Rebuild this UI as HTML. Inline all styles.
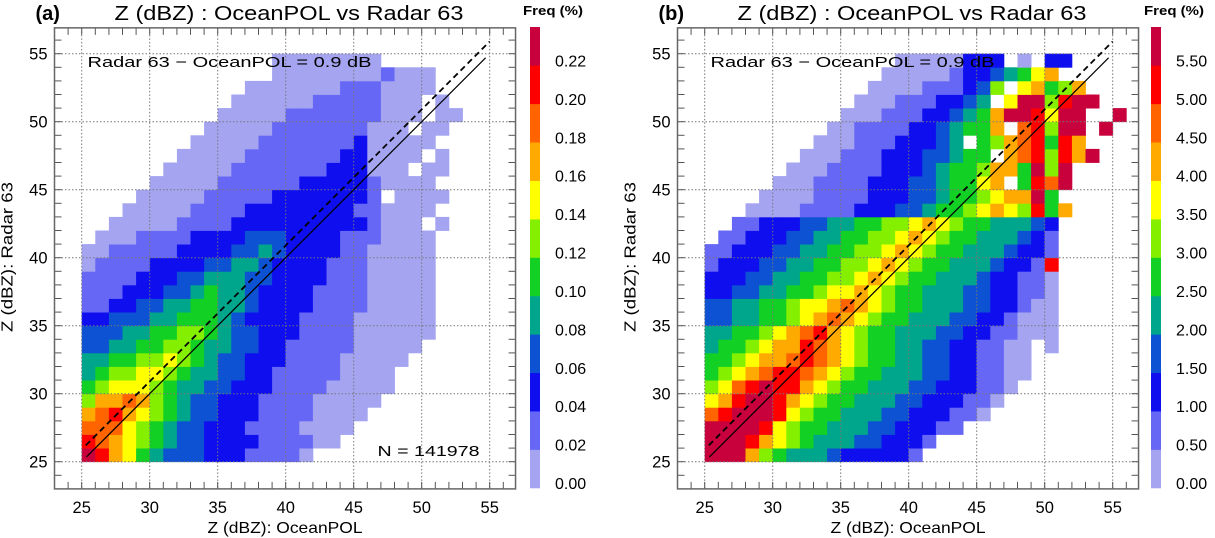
<!DOCTYPE html>
<html><head><meta charset="utf-8"><style>
html,body{margin:0;padding:0;background:#fff;}
svg{display:block;font-family:"Liberation Sans",sans-serif;}
</style></head><body>
<svg id="chart" width="1215" height="538" viewBox="0 0 1215 538" xmlns="http://www.w3.org/2000/svg"></svg>
<script>
// ---- data ----
const palette = ['#a4a4f0','#6767f6','#0e0eef','#0c52d2','#00a68c','#12d024','#84f000','#ffff00','#ffaa00','#ff6400','#ff0000','#c8003c'];
const colorbarLabelsA = ['0.00','0.02','0.04','0.06','0.08','0.10','0.12','0.14','0.16','0.18','0.20','0.22'];
const colorbarLabelsB = ['0.00','0.50','1.00','1.50','2.00','2.50','3.00','3.50','4.00','4.50','5.00','5.50'];
const axisTicks = [25,30,35,40,45,50,55];
const binStart = 25; // first bin (dBZ), rows listed bottom (25) to top (54), 1 dBZ bins
const rowsA = [
"ba875433322211110",
"a987654332222111100",
"99976543322211110000",
"89a876543322211110000",
"6889865433222111100000",
"56777654433222111100000",
"45667765443322111110000",
"445566765433222111100000",
"3344556654433221111100000",
"33344556654332221111000000",
"22333445554322221111000000",
"11223344554432222111100000",
"11122233454432222111100000",
"11112223344433222211100000",
"01111222233443222211100000",
"00111112222334322221100000",
".0001111222233322221110000",
"..00000111122222222221000 0",
"...00000111122222222110000",
"....000001111122222221 0000",
".....000001111112222210000",
"......000001111111222000 00",
".......000001111111220000 0",
"........000001111111200000",
".........000001111111000 00",
"..........000001111111000 00",
"...........00000011111000 0",
"............00000001110000",
"..............000000001000",
"..............00000000"
];
const rowsB = [
"bbb8654443222221",
"bbba8765444332221",
"bbbba76554443322211",
"9abbba765544433222110",
"78abba8765544433222110",
"679abaa8765544433222110",
"56789aa98765544433221100",
"5567889a9876554433221100",
"4556788a9876554433221100 0",
"44556789a87655444332211000",
"33445567898765544433221000",
"33445567789876554443322100",
"22334455677876554443322110",
"22233445566787655444322110",
"1222334455667876554443221a",
"11222334455667876554443221",
".1122233445566787655444321",
"..112223344556678765544432",
"...000011112223345567876a58",
"....00001111222334556788b5",
".....00011112223345578 5a9b",
"......000111122234556885b6b",
".......00011122233455 89a6a8b",
"........00011122234 5689a5a8",
".........0011112234558 9a6bb.b",
"..........000111223458bba7bb..b",
"...........0001112234 7bb6abb",
"............0000111236 78568",
".............0000012234578",
"..............00000222 0.22"
];

// ---- drawing ----
const svg = document.getElementById('chart');
const NS = 'http://www.w3.org/2000/svg';
function mk(tag, attrs, parent){
  const e = document.createElementNS(NS, tag);
  for (const k in attrs) e.setAttribute(k, attrs[k]);
  (parent||svg).appendChild(e);
  return e;
}
const UNIT = 13.6;
function panel(cfg){
  const g = mk('g', {});
  
  
  const x25 = cfg.x25, y25 = 461.7;
  const xs = v => x25 + (v - 25) * UNIT;
  const ys = v => y25 - (v - 25) * UNIT;
  const left = xs(23), right = xs(56.9), top = ys(56.9), bottom = ys(23);
  const cells = mk('g', {}, g);
  
  
  cfg.rows.forEach((row, ri) => {
    const yv = binStart + ri;
    for (let ci = 0; ci < row.length; ci++) {
      const lvl = parseInt(row[ci], 16);
      if (isNaN(lvl)) continue;
      const xv = binStart + ci;
      const r = mk('rect', {x: xs(xv).toFixed(2), y: ys(yv + 1).toFixed(2), width: (UNIT + 0.4).toFixed(2), height: (UNIT + 0.4).toFixed(2), fill: palette[lvl]}, cells);
      
      
    }
  });
  axisTicks.forEach(t => {
    const gx = mk('line', {x1: xs(t), x2: xs(t), y1: top, y2: bottom, stroke: '#777', 'stroke-width': 1, 'stroke-dasharray': '1.5 2'}, g);
    
    
    const gy = mk('line', {x1: left, x2: right, y1: ys(t), y2: ys(t), stroke: '#777', 'stroke-width': 1, 'stroke-dasharray': '1.5 2'}, g);
    
    
  });
  for (let t = 24; t <= 56; t++) {
    [[xs(t), bottom, xs(t), bottom - 7], [xs(t), top, xs(t), top + 7], [left, ys(t), left + 7, ys(t)], [right, ys(t), right - 7, ys(t)]].forEach(p => {
      const tk = mk('line', {x1: p[0], y1: p[1], x2: p[2], y2: p[3], stroke: '#555', 'stroke-width': 1}, g);
      
      
    });
  }
  const l1 = mk('line', {x1: xs(25.35), y1: ys(25.35), x2: xs(54.7), y2: ys(54.7), stroke: '#000', 'stroke-width': 1.2}, g);
  
  
  const l2 = mk('line', {x1: xs(25.3), y1: ys(26.2), x2: xs(55), y2: ys(55.9), stroke: '#000', 'stroke-width': 1.8, 'stroke-dasharray': '6 4'}, g);
  
  
  const fr = mk('rect', {x: left, y: top, width: right - left, height: bottom - top, fill: 'none', stroke: '#666', 'stroke-width': 1.5}, g);
  
  
  axisTicks.forEach(t => {
    const tx = mk('text', {x: xs(t), y: 513, 'font-size': 16.5, 'text-anchor': 'middle'}, g);
    tx.textContent = t;
    
    
    const ty = mk('text', {x: left - 7, y: ys(t) + 6, 'font-size': 16.5, 'text-anchor': 'end'}, g);
    ty.textContent = t;
    
    
  });
  const xt = mk('text', {x: (left + right) / 2, y: 533, 'font-size': 16, 'text-anchor': 'middle', textLength: 155, lengthAdjust: 'spacingAndGlyphs'}, g);
  xt.textContent = 'Z (dBZ): OceanPOL';
  
  
  const yt = mk('text', {x: 0, y: 0, 'font-size': 16, 'text-anchor': 'middle', textLength: 150, lengthAdjust: 'spacingAndGlyphs', transform: `translate(${left - 42},257) rotate(-90)`}, g);
  yt.textContent = 'Z (dBZ): Radar 63';
  
  
  const ti = mk('text', {x: left + 60, y: 20, 'font-size': 20, textLength: 349, lengthAdjust: 'spacingAndGlyphs'}, g);
  ti.textContent = 'Z (dBZ) :  OceanPOL vs Radar 63';
  
  
  const pl = mk('text', {x: left - 19, y: 20, 'font-size': 20, 'font-weight': 'bold'}, g);
  pl.textContent = cfg.letter;
  
  
  const bt = mk('text', {x: left + 33, y: 67, 'font-size': 15, textLength: 284, lengthAdjust: 'spacingAndGlyphs'}, g);
  bt.textContent = 'Radar 63 \u2212 OceanPOL =    0.9 dB';
  
  
  if (cfg.n) {
    const nt = mk('text', {x: left + 323, y: 456, 'font-size': 15, textLength: 102, lengthAdjust: 'spacingAndGlyphs'}, g);
    nt.textContent = cfg.n;
    
    
  }
  const cb = mk('g', {}, g);
  
  
  const cbTop = 27, cbBot = 488, segH = (cbBot - cbTop) / palette.length;
  palette.forEach((c, i) => {
    const r = mk('rect', {x: cfg.cbx, y: cbBot - (i + 1) * segH, width: 10, height: segH + 0.3, fill: c}, cb);
    
    
    const lt = mk('text', {x: cfg.cbx + 25, y: cbBot - i * segH + 1, 'font-size': 16}, cb);
    lt.textContent = cfg.labels[i];
    
    
  });
  const ft = mk('text', {x: cfg.cbx - 7, y: 15, 'font-size': 13, 'font-weight': 'bold', textLength: 60, lengthAdjust: 'spacingAndGlyphs'}, cb);
  ft.textContent = 'Freq (%)';
  
  
}
panel({name: 'panel-a', letter: '(a)', x25: 81.7, rows: rowsA, labels: colorbarLabelsA, cbx: 530, n: 'N = 141978'});
panel({name: 'panel-b', letter: '(b)', x25: 704.7, rows: rowsB, labels: colorbarLabelsB, cbx: 1151, n: null});
</script>
</body></html>
